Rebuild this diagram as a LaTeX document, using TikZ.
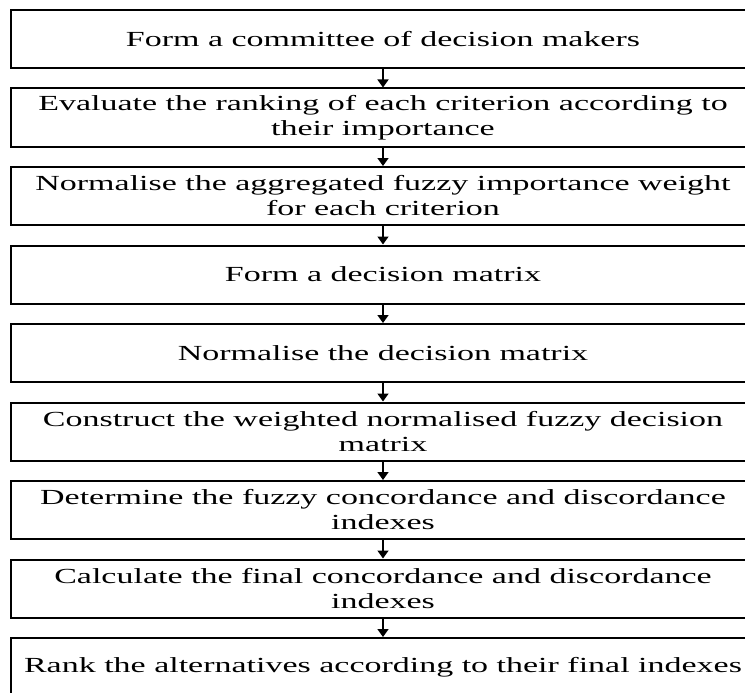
\documentclass[tikz,border=0pt]{standalone}
\usepackage{fontspec}
\setmainfont{Liberation Serif}[FakeStretch=1.58]
\usepackage{tikz}
\usetikzlibrary{arrows.meta}

\begin{document}
\begin{tikzpicture}[
    x=1pt, y=1pt,
    block/.style = {rectangle, draw=black, line width=2pt, align=center, font=\fontsize{21.5}{25}\selectfont, minimum width=744pt, minimum height=58pt, inner sep=2pt},
    arrow/.style = {draw=black, line width=1.6pt, -{Triangle[width=11pt,length=8pt]}}
]
\useasboundingbox (0,0) rectangle (745,-693);

% Steps, one under the other (78.5pt pitch)
\node (step1) [block] at (383, -39) {Form a committee of decision makers};
\node (step2) [block] at (383, -117.5) {Evaluate the ranking of each criterion according to\\their importance};
\node (step3) [block] at (383, -196) {Normalise the aggregated fuzzy importance weight\\for each criterion};
\node (step4) [block] at (383, -274.5) {Form a decision matrix};
\node (step5) [block] at (383, -353) {Normalise the decision matrix};
\node (step6) [block] at (383, -431.5) {Construct the weighted normalised fuzzy decision\\matrix};
\node (step7) [block] at (383, -510) {Determine the fuzzy concordance and discordance\\indexes};
\node (step8) [block] at (383, -588.5) {Calculate the final concordance and discordance\\indexes};
\node (step9) [block] at (383, -667) {Rank the alternatives according to their final indexes};

% Downward flow
\draw [arrow] (step1.south) -- (step2.north);
\draw [arrow] (step2.south) -- (step3.north);
\draw [arrow] (step3.south) -- (step4.north);
\draw [arrow] (step4.south) -- (step5.north);
\draw [arrow] (step5.south) -- (step6.north);
\draw [arrow] (step6.south) -- (step7.north);
\draw [arrow] (step7.south) -- (step8.north);
\draw [arrow] (step8.south) -- (step9.north);

\end{tikzpicture}
\end{document}
